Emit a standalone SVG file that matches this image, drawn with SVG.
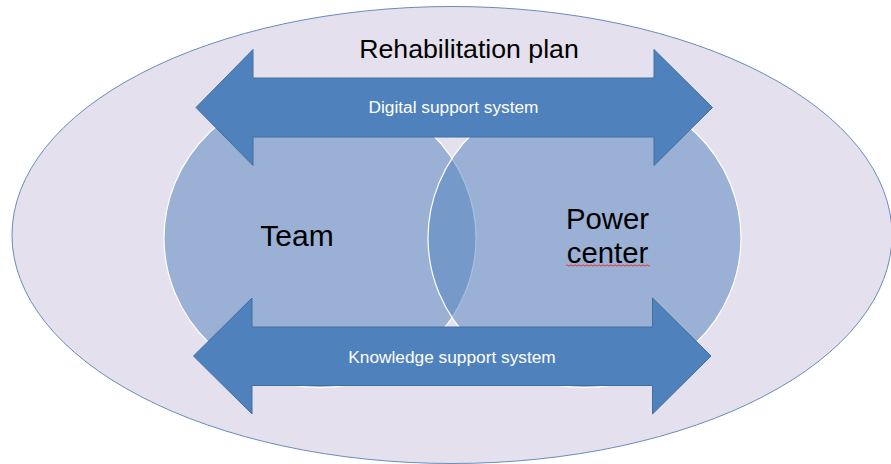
<svg xmlns="http://www.w3.org/2000/svg" width="891" height="464" viewBox="0 0 891 464">
<style>
.venn{fill:#4f81bd;fill-opacity:0.5;stroke:#ffffff;stroke-width:1.2}
.arrow{fill:#4f81bd;stroke:#41709f;stroke-width:1}
.big{font-family:"Liberation Sans",Arial,sans-serif;fill:#000000}
.lbl{font-family:"Liberation Sans",Arial,sans-serif;fill:#ffffff;font-size:17.3px;text-anchor:middle}
</style>
<rect width="891" height="464" fill="#ffffff"/>
<g id="plan">
<ellipse cx="452" cy="235" rx="440" ry="228.5" fill="#e5e0ed" stroke="#6a8cba" stroke-width="1"/>
<text class="big" x="469" y="58" font-size="26.7" text-anchor="middle">Rehabilitation plan</text>
</g>
<g id="team">
<ellipse class="venn" cx="320" cy="238" rx="156" ry="149.5"/>
<text class="big" x="297" y="246" font-size="30" text-anchor="middle">Team</text>
</g>
<g id="power-center">
<ellipse class="venn" cx="584.5" cy="238" rx="156.5" ry="149.5"/>
<text class="big" x="607.5" y="229.3" font-size="29.3" text-anchor="middle">Power</text>
<text class="big" x="607.5" y="262.7" font-size="29.3" text-anchor="middle">center</text>
<path d="M566,265.5 q1,-1.2 2,0 t2,0 t2,0 t2,0 t2,0 t2,0 t2,0 t2,0 t2,0 t2,0 t2,0 t2,0 t2,0 t2,0 t2,0 t2,0 t2,0 t2,0 t2,0 t2,0 t2,0 t2,0 t2,0 t2,0 t2,0 t2,0 t2,0 t2,0 t2,0 t2,0 t2,0 t2,0 t2,0 t2,0 t2,0 t2,0 t2,0 t2,0 t2,0 t2,0 t2,0 t2,0" fill="none" stroke="#f03030" stroke-width="1"/>
</g>
<g id="digital-support">
<path class="arrow" d="M196,107.5 L253,49.5 L253,78 L654,78 L654,49.5 L712.5,107.5 L654,165.5 L654,137 L253,137 L253,165.5 Z"/>
<text class="lbl" x="453.5" y="113">Digital support system</text>
</g>
<g id="knowledge-support">
<path class="arrow" d="M193.5,356 L252,298 L252,327 L652.5,327 L652.5,298 L711,356 L652.5,414 L652.5,385.5 L252,385.5 L252,414 Z"/>
<text class="lbl" x="452" y="363.3">Knowledge support system</text>
</g>
<g id="connectors"></g>
</svg>
